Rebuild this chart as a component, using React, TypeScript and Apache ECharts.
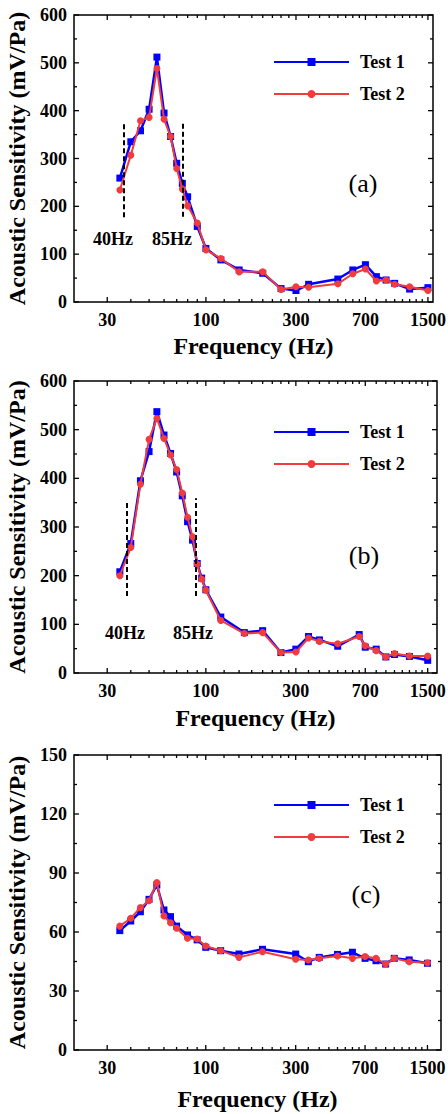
import React, { useEffect, useRef } from "react";
import * as echarts from "echarts";

// ---------- data ----------
const freqA = [35, 40, 45, 50, 55, 60, 65, 70, 75, 80, 90, 100, 120, 150, 200, 250, 300, 350, 500, 600, 700, 800, 900, 1000, 1200, 1500];
const test1A = [259, 335, 358, 403, 512, 395, 346, 290, 248, 220, 158, 112, 88, 67, 60, 28, 24, 37, 48, 67, 78, 53, 46, 39, 27, 30];
const test2A = [234, 307, 379, 386, 488, 382, 346, 279, 236, 201, 165, 109, 91, 63, 63, 26, 32, 31, 38, 59, 69, 44, 46, 37, 32, 24];

const freqB = [35, 40, 45, 50, 55, 60, 65, 70, 75, 80, 85, 90, 95, 100, 120, 160, 200, 250, 300, 350, 400, 500, 650, 700, 800, 900, 1000, 1200, 1500];
const test1B = [208, 266, 395, 455, 537, 489, 451, 413, 364, 311, 273, 225, 195, 171, 115, 83, 87, 42, 49, 75, 68, 55, 79, 53, 49, 33, 38, 34, 26];
const test2B = [200, 258, 388, 480, 523, 482, 448, 418, 370, 320, 280, 224, 193, 170, 108, 81, 83, 42, 43, 72, 65, 60, 75, 56, 46, 33, 40, 35, 35];

const freqC = [35, 40, 45, 50, 55, 60, 65, 70, 80, 90, 100, 120, 150, 200, 300, 350, 400, 500, 600, 700, 800, 900, 1000, 1200, 1500];
const test1C = [60.7, 65.6, 70.3, 76.6, 83.9, 71.2, 67.8, 63, 58.5, 56, 52.2, 50.5, 48.8, 51.2, 48.8, 44.9, 47.1, 48.6, 49.7, 46.6, 45.4, 43.7, 46.6, 45.8, 44.1];
const test2C = [63, 67, 72.4, 75.9, 85.1, 68.1, 64.7, 61.9, 56.8, 56.4, 52.9, 50.5, 47.1, 50, 46.1, 45.8, 46.6, 47.8, 46.6, 47.5, 46.6, 43.7, 46.6, 44.9, 44.4];

const majorTicks = [30, 100, 300, 700, 1500];
const minorTicks = [40, 50, 60, 70, 80, 90, 125, 150, 175, 200, 225, 250, 275, 350, 400, 450, 500, 550, 600, 650, 800, 900, 1000, 1100, 1200, 1300, 1400];
const yTicksAB = [0, 100, 200, 300, 400, 500, 600];
const yMinorAB = [50, 150, 250, 350, 450, 550];
const yTicksC = [0, 30, 60, 90, 120, 150];
const yMinorC = [15, 45, 75, 105, 135];

// dashed marker lines: [frequency, from, to]
const dashA = [[36.7, 177, 372], [75, 178, 374]];
const dashB = [[38.2, 158, 351], [88.2, 158, 359]];

const seriesNames = ["Test 1", "Test 2"];
const panelTags = ["(a)", "(b)", "(c)"];
const hzLabels = ["40Hz", "85Hz"];
const xMin = 20;
const xMax = [1596, 1680, 1770];

const SERIF = "'Liberation Serif', 'Times New Roman', serif";
const BLUE = "#0000ff";
const RED = "#f03c3c";
const TICK = "#000";

const lg = (v: number) => Math.log10(v);

export default function App() {
  const ref = useRef<HTMLDivElement>(null);
  useEffect(() => {
    if (!ref.current) return;
    const chart = echarts.init(ref.current, null, { renderer: "svg" });

    const grids = [
      { left: 74, top: 15, width: 359, height: 287 },
      { left: 74, top: 381, width: 363, height: 292 },
      { left: 74, top: 755, width: 367, height: 295 },
    ];
    const xNameGap = [32, 33, 37];
    const yTickSets = [
      [yTicksAB, yMinorAB],
      [yTicksAB, yMinorAB],
      [yTicksC, yMinorC],
    ];

    const xAxis: any[] = [];
    const yAxis: any[] = [];
    const series: any[] = [];
    const legend: any[] = [];
    const legendTops = [47, 417, 790];
    const dashes = [dashA, dashB, []];
    const datasets = [
      [freqA, test1A, test2A],
      [freqB, test1B, test2B],
      [freqC, test1C, test2C],
    ];

    const labelFont = { fontFamily: SERIF, fontWeight: "bold", fontSize: 18, color: "#000" };
    const nameFont = { fontFamily: SERIF, fontWeight: "bold", fontSize: 24, color: "#000" };

    grids.forEach((g, i) => {
      const [yMaj, yMin] = yTickSets[i];
      const yTop = yMaj[yMaj.length - 1];
      xAxis.push({
        type: "value",
        gridIndex: i,
        min: lg(xMin),
        max: lg(xMax[i]),
        splitLine: { show: false },
        axisLine: { show: false },
        axisTick: { show: false },
        axisLabel: {
          show: true,
          customValues: majorTicks.map(lg),
          formatter: (v: number) => String(Math.round(Math.pow(10, v))),
          margin: 9,
          ...labelFont,
        },
        name: "Frequency (Hz)",
        nameLocation: "middle",
        nameGap: xNameGap[i],
        nameTextStyle: nameFont,
      });
      yAxis.push({
        type: "value",
        gridIndex: i,
        min: 0,
        max: yTop,
        interval: yMaj[1] - yMaj[0],
        splitLine: { show: false },
        axisLine: { show: false },
        axisTick: { show: false },
        axisLabel: { show: true, margin: 7, ...labelFont },
        name: "Acoustic Sensitivity (mV/Pa)",
        nameLocation: "middle",
        nameGap: 40,
        nameRotate: 90,
        nameTextStyle: nameFont,
      });

      const [freqs, t1, t2] = datasets[i];
      const dash = dashes[i];
      series.push({
        type: "line",
        name: seriesNames[0],
        xAxisIndex: i,
        yAxisIndex: i,
        data: freqs.map((f, k) => [lg(f), t1[k]]),
        symbol: "rect",
        symbolSize: 7,
        color: BLUE,
        lineStyle: { color: BLUE, width: 2.5 },
        itemStyle: { color: BLUE },
        z: 3,
        markLine: dash.length
          ? {
              silent: true,
              symbol: ["none", "none"],
              label: { show: false },
              lineStyle: { type: [5, 3], color: "#000", width: 2 },
              data: dash.map((d) => [{ coord: [lg(d[0]), d[1]] }, { coord: [lg(d[0]), d[2]] }]),
            }
          : undefined,
      });
      series.push({
        type: "line",
        name: seriesNames[1],
        xAxisIndex: i,
        yAxisIndex: i,
        data: freqs.map((f, k) => [lg(f), t2[k]]),
        symbol: "circle",
        symbolSize: 7,
        color: RED,
        lineStyle: { color: RED, width: 2 },
        itemStyle: { color: RED },
        z: 4,
      });

      // inward tick marks on all four sides, placed through the axes' scales
      const tickData: number[][] = [];
      majorTicks.forEach((t) => tickData.push([lg(t), 0, 0, 5]));
      minorTicks.forEach((t) => tickData.push([lg(t), 0, 0, 3]));
      yMaj.forEach((t) => tickData.push([lg(xMin), t, 1, 5]));
      yMin.forEach((t) => tickData.push([lg(xMin), t, 1, 3]));
      series.push({
        type: "custom",
        xAxisIndex: i,
        yAxisIndex: i,
        silent: true,
        z: 5,
        encode: { x: 0, y: 1 },
        data: tickData,
        renderItem: (params: any, api: any) => {
          const cs = params.coordSys;
          const p = api.coord([api.value(0), api.value(1)]);
          const kind = api.value(2);
          const len = api.value(3);
          const st = { stroke: TICK, lineWidth: 1.3 };
          if (kind === 0) {
            const x = p[0];
            const yb = cs.y + cs.height;
            return {
              type: "group",
              children: [
                { type: "line", shape: { x1: x, y1: yb, x2: x, y2: yb - len }, style: st },
                { type: "line", shape: { x1: x, y1: cs.y, x2: x, y2: cs.y + len }, style: st },
              ],
            };
          }
          const y = p[1];
          const xr = cs.x + cs.width;
          return {
            type: "group",
            children: [
              { type: "line", shape: { x1: cs.x, y1: y, x2: cs.x + len, y2: y }, style: st },
              { type: "line", shape: { x1: xr, y1: y, x2: xr - len, y2: y }, style: st },
            ],
          };
        },
      });

      legend.push({
        data: seriesNames,
        orient: "vertical",
        left: 268,
        top: legendTops[i],
        itemWidth: 75,
        itemHeight: 10,
        itemGap: 12,
        selectedMode: false,
        textStyle: { ...labelFont, lineHeight: 20, padding: [0, 0, 0, 6] },
      });
    });

    const txt = (text: string, x: number, y: number, size: number, bold: boolean) => ({
      type: "text",
      x,
      y,
      silent: true,
      style: {
        text,
        fill: "#000",
        font: `${bold ? "bold " : ""}${size}px ${SERIF}`,
        align: "center",
        verticalAlign: "middle",
      },
    });

    const graphic = [
      txt(panelTags[0], 363, 183, 26, false),
      txt(panelTags[1], 364, 555, 26, false),
      txt(panelTags[2], 366, 894, 26, false),
      txt(hzLabels[0], 113, 239, 18, true),
      txt(hzLabels[1], 172, 239, 18, true),
      txt(hzLabels[0], 125, 633, 18, true),
      txt(hzLabels[1], 193, 633, 18, true),
    ];

    chart.setOption({
      animation: false,
      backgroundColor: "#fff",
      grid: grids.map((g) => ({
        ...g,
        containLabel: false,
        outerBoundsMode: "none",
        show: true,
        borderColor: "#000",
        borderWidth: 1.5,
        backgroundColor: "transparent",
      })),
      xAxis,
      yAxis,
      series,
      legend,
      graphic,
    });
    return () => chart.dispose();
  }, []);

  return (
    <div
      ref={ref}
      style={{ position: "absolute", left: 0, top: 0, width: 448, height: 1114, background: "#fff" }}
    />
  );
}
